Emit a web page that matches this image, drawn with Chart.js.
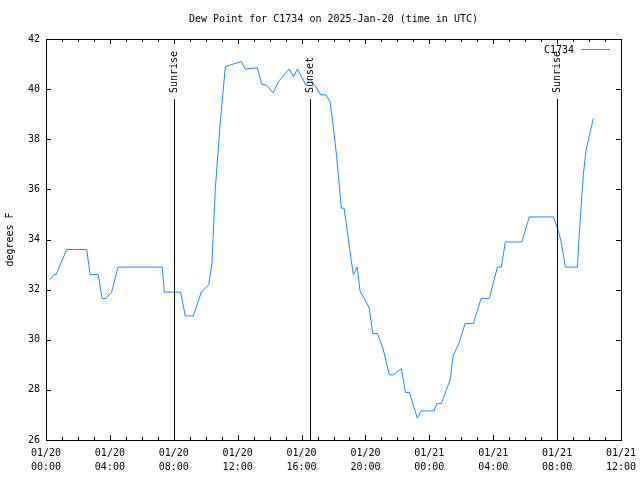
<!DOCTYPE html>
<html>
<head>
<meta charset="utf-8">
<script src="https://cdn.jsdelivr.net/npm/chart.js@4.4.1/dist/chart.umd.min.js"></script>
<style>
  html, body { margin: 0; padding: 0; background: #fff; }
  canvas { display: block; }
</style>
</head>
<body>
<canvas id="dewChart" width="640" height="480"></canvas>
<script>
/* ---------------------------------------------------
   data (hours since 2025-01-20 00:00 UTC)
----------------------------------------------------- */
var stationName = "C1734";
var chartTitle = "Dew Point for C1734 on 2025-Jan-20 (time in UTC)";
var hours = [0.25, 0.5, 0.63, 1.3, 2.55, 2.76, 3.27, 3.51, 3.76, 4.11, 4.51, 7.28, 7.41, 8.43, 8.72,
	9.22, 9.72, 10.19, 10.39, 10.6, 10.9, 11.23, 11.73, 12.23, 12.48, 13.23, 13.51, 13.82, 14.23, 14.55,
	15.23, 15.49, 15.74, 16.28, 16.53, 16.89, 17.2, 17.53, 17.78, 17.99, 18.2, 18.37, 18.49, 18.66, 18.83,
	19.08, 19.24, 19.49, 19.66, 19.97, 20.24, 20.46, 20.75, 21.12, 21.5, 21.75, 22.25, 22.5, 22.75, 23.25,
	23.48, 24.3, 24.46, 24.75, 25.3, 25.5, 25.82, 26.24, 26.76, 27.24, 27.76, 28.26, 28.51, 28.76, 29.79,
	30.26, 31.77, 32.02, 32.23, 32.52, 33.27, 33.39, 33.64, 33.81, 34.27];
var dewPoint = [32.4, 32.6, 32.6, 33.6, 33.6, 32.6, 32.6, 31.65, 31.65, 31.9, 32.9, 32.9, 31.9, 31.9, 30.95,
	30.95, 31.9, 32.2, 33.05, 36.0, 38.6, 40.9, 41.0, 41.1, 40.8, 40.85, 40.2, 40.15, 39.85, 40.3,
	40.8, 40.5, 40.8, 40.15, 40.4, 40.1, 39.77, 39.77, 39.5, 38.5, 37.3, 36.1, 35.25, 35.25, 34.5,
	33.3, 32.6, 32.9, 31.95, 31.6, 31.25, 30.25, 30.25, 29.6, 28.6, 28.6, 28.85, 27.9, 27.9, 26.87,
	27.16, 27.16, 27.45, 27.45, 28.4, 29.4, 29.8, 30.65, 30.65, 31.65, 31.65, 32.9, 32.9, 33.9, 33.9,
	34.9, 34.9, 34.45, 33.98, 32.9, 32.9, 34.25, 36.57, 37.57, 38.83];
var eventNames = ["Sunrise", "Sunset", "Sunrise"];
var eventHours = [8.0, 16.53, 32.0];
var dayLabels = ["01/20", "01/21"];

var fontFamily = "'DejaVu Sans Mono', monospace";
var lineColor = "#1e88ff";

function buildPoints()
{
	var pts = [];
	for (var i = 0; i < hours.length; i++) {
		pts.push({x: hours[i], y: dewPoint[i]});
	}
	return pts;
}

function tickLabel(h)
{
	var day = dayLabels[Math.floor(h / 24)] || dayLabels[dayLabels.length - 1];
	var hh = h % 24;
	return [day, (hh < 10 ? "0" : "") + hh + ":00"];
}

/* ---------------------------------------------------
   title, frame, ticks, sun lines and key (gnuplot look)
----------------------------------------------------- */
var gnuplotBits = {
	id: 'gnuplotBits',
	afterDatasetsDraw: function (chart) {
		var ctx = chart.ctx;
		var a = chart.chartArea;
		var xs = chart.scales.x;
		var ys = chart.scales.y;
		ctx.save();
		ctx.strokeStyle = "#000";
		ctx.fillStyle = "#000";
		ctx.lineWidth = 1;
		ctx.font = "10px " + fontFamily;

		// title, centred over the plot like gnuplot does
		ctx.textAlign = "center";
		ctx.textBaseline = "middle";
		ctx.fillText(chartTitle, (a.left + a.right) / 2, a.top - 20);

		// sun lines
		for (var k = 0; k < eventHours.length; k++) {
			var ex = Math.round(xs.getPixelForValue(eventHours[k])) + 0.5;
			ctx.beginPath();
			ctx.moveTo(ex, a.bottom);
			ctx.lineTo(ex, a.top + 60);
			ctx.stroke();
			ctx.save();
			ctx.translate(ex, a.top + 54);
			ctx.rotate(-Math.PI / 2);
			ctx.textAlign = "left";
			ctx.textBaseline = "middle";
			ctx.fillText(eventNames[k], 0, 0);
			ctx.restore();
		}

		// border
		ctx.strokeRect(Math.round(a.left) + 0.5, Math.round(a.top) + 0.5,
			Math.round(a.right - a.left), Math.round(a.bottom - a.top));

		// x ticks, major every 4h, minor every hour
		ctx.beginPath();
		for (var h = xs.min; h <= xs.max; h++) {
			var px = Math.round(xs.getPixelForValue(h)) + 0.5;
			var len = (h % 4 === 0) ? 5 : 3;
			ctx.moveTo(px, a.bottom);
			ctx.lineTo(px, a.bottom - len);
			ctx.moveTo(px, a.top);
			ctx.lineTo(px, a.top + len);
		}
		// y ticks
		for (var v = ys.min; v <= ys.max; v += 2) {
			var py = Math.round(ys.getPixelForValue(v)) + 0.5;
			ctx.moveTo(a.left, py);
			ctx.lineTo(a.left + 5, py);
			ctx.moveTo(a.right, py);
			ctx.lineTo(a.right - 5, py);
		}
		ctx.stroke();

		// key
		ctx.textAlign = "right";
		ctx.fillText(chart.data.datasets[0].label, a.right - 47, a.top + 11);
		ctx.strokeStyle = chart.data.datasets[0].borderColor;
		ctx.beginPath();
		ctx.moveTo(a.right - 40, a.top + 10.5);
		ctx.lineTo(a.right - 11, a.top + 10.5);
		ctx.stroke();
		ctx.restore();
	}
};

/* ---------------------------------------------------
   chart
----------------------------------------------------- */
var ctxD = document.getElementById("dewChart").getContext('2d');
var dewChart = new Chart(ctxD, {
	type: 'line',
	data: {
		datasets: [{
			label: stationName,
			data: buildPoints(),
			borderColor: lineColor,
			borderWidth: 1,
			pointRadius: 0,
			tension: 0,
			fill: false
		}]
	},
	options: {
		responsive: false,
		animation: false,
		devicePixelRatio: 1,
		layout: { padding: { top: 39, right: 19, bottom: 0, left: 0 } },
		plugins: {
			legend: { display: false },
			tooltip: { enabled: false },
			title: { display: false }
		},
		scales: {
			x: {
				type: 'linear',
				min: 0,
				max: 36,
				grid: { display: false, drawTicks: false },
				border: { display: false },
				ticks: {
					stepSize: 4,
					padding: 6,
					color: "#000",
					maxRotation: 0,
					autoSkip: false,
					font: { family: fontFamily, size: 10, lineHeight: 1.45 },
					callback: function (value) { return tickLabel(value); }
				},
				afterFit: function (s) {
					s.height = 40;
					s.paddingLeft = 0;
					s.paddingRight = 0;
				}
			},
			y: {
				min: 26,
				max: 42,
				grid: { display: false, drawTicks: false },
				border: { display: false },
				ticks: {
					stepSize: 2,
					padding: 6,
					color: "#000",
					font: { family: fontFamily, size: 10 }
				},
				title: {
					display: true,
					text: "degrees F",
					color: "#000",
					font: { family: fontFamily, size: 10 },
					padding: { top: 4, bottom: 0 }
				},
				afterFit: function (s) { s.width = 46; }
			}
		}
	},
	plugins: [gnuplotBits]
});
</script>
</body>
</html>
